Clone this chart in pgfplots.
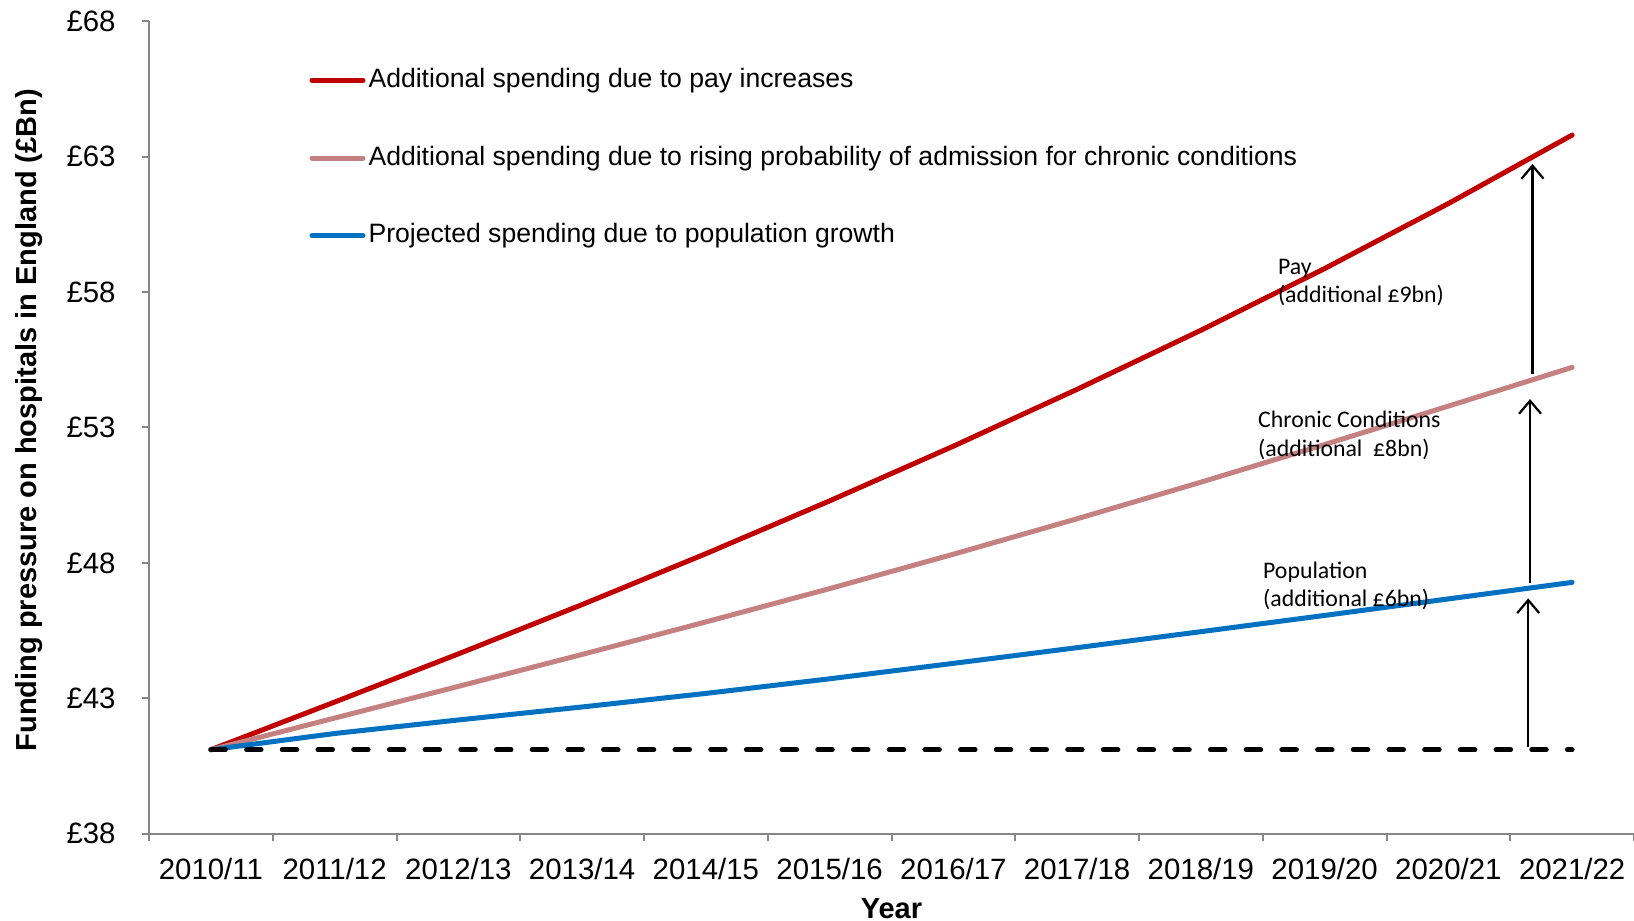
\documentclass[border=0pt]{standalone}
\usepackage{pgfplots}
\pgfplotsset{compat=1.18}
\usepackage{fontspec}
\setmainfont{Liberation Sans}
\newfontfamily\calibri{Carlito}
\usetikzlibrary{arrows.meta}

\definecolor{payred}{RGB}{192,0,0}
\definecolor{chronpink}{RGB}{197,128,128}
\definecolor{popblue}{RGB}{0,112,192}
\definecolor{axisgray}{RGB}{134,134,134}

\begin{document}
\begin{tikzpicture}
\begin{axis}[
    name=ax,
    scale only axis,
    width=742.5pt, height=406.2pt,
    xmin=-0.5, xmax=11.5,
    ymin=38, ymax=68,
    axis x line*=bottom, axis y line*=left,
    axis line style={draw=axisgray, line width=1pt, -},
    tick align=outside,
    tick style={draw=axisgray, line width=1pt},
    major tick length=3.5pt,
    xtick={-0.5,0.5,1.5,2.5,3.5,4.5,5.5,6.5,7.5,8.5,9.5,10.5,11.5},
    x tick label as interval,
    xticklabels={2010/11,2011/12,2012/13,2013/14,2014/15,2015/16,2016/17,2017/18,2018/19,2019/20,2020/21,2021/22},
    ytick={38,43,48,53,58,63,68},
    yticklabels={£38,£43,£48,£53,£58,£63,£68},
    ticklabel style={font=\fontsize{14.7}{17}\selectfont},
    xticklabel style={anchor=center, yshift=-14.15pt},
    yticklabel style={anchor=east, inner sep=0pt, xshift=-13pt},
    xlabel={Year},
    ylabel={Funding pressure on hospitals in England (£Bn)},
    label style={font=\bfseries\fontsize{14.5}{17}\selectfont},
    xlabel style={at={(axis description cs:0.5,-0.092)}, anchor=center},
    ylabel style={at={(axis description cs:-0.0808,0.509)}, anchor=center},
    legend style={draw=none, fill=none, inner sep=0pt, outer sep=0pt,
        at={(0.1081,0.9373)}, anchor=north west,
        font=\fontsize{13.3}{16}\selectfont, row sep=28.9pt,
        nodes={inner sep=0pt, text height=0.75em, text depth=0.25em}},
    legend cell align=left,
    legend image code/.code={\draw[#1] (0pt,1pt) -- (25.5pt,1pt);},
    /tikz/every odd column/.append style={column sep=1.5pt},
]
% projected spending, GBP bn, 2010/11 to 2021/22
\addplot[payred, line width=2.5pt, line join=round, line cap=round] coordinates {
    (0,41.10) (1,42.86) (2,44.64) (3,46.46) (4,48.34) (5,50.29)
    (6,52.31) (7,54.41) (8,56.59) (9,58.87) (10,61.27) (11,63.80)};
\addlegendentry{Additional spending due to pay increases}
\addplot[chronpink, line width=2.5pt, line join=round, line cap=round] coordinates {
    (0,41.10) (1,42.27) (2,43.44) (3,44.62) (4,45.82) (5,47.05)
    (6,48.32) (7,49.63) (8,50.98) (9,52.37) (10,53.79) (11,55.22)};
\addlegendentry{Additional spending due to rising probability of admission for chronic conditions}
\addplot[popblue, line width=2.5pt, line join=round, line cap=round] coordinates {
    (0,41.10) (1,41.70) (2,42.20) (3,42.68) (4,43.18) (5,43.72)
    (6,44.29) (7,44.87) (8,45.46) (9,46.06) (10,46.67) (11,47.28)};
\addlegendentry{Projected spending due to population growth}
% 2010/11 baseline
\addplot[black, line width=2.5pt, line cap=round, dash pattern=on 7.25pt off 10.6pt, forget plot]
    coordinates {(0,41.10) (11,41.10)};

% annotations
\node[anchor=west, align=left, inner sep=0pt, font=\calibri\fontsize{11.9}{14.3}\selectfont]
    at (axis cs:8.62,58.36) {Pay\\(additional £9bn)};
\node[anchor=west, align=left, inner sep=0pt, font=\calibri\fontsize{11.9}{14.3}\selectfont]
    at (axis cs:8.46,52.70) {Chronic Conditions\\(additional~ £8bn)};
\node[anchor=west, align=left, inner sep=0pt, font=\calibri\fontsize{11.9}{14.3}\selectfont]
    at (axis cs:8.50,47.15) {Population\\(additional £6bn)};
\draw[line width=1.1pt, -{Straight Barb[length=6.5pt,width=11pt]}]
    (axis cs:10.645,41.20) -- (axis cs:10.645,46.69);
\draw[line width=1.1pt, -{Straight Barb[length=6.5pt,width=11pt]}]
    (axis cs:10.66,47.25) -- (axis cs:10.66,54.05);
\draw[line width=1.1pt, -{Straight Barb[length=6.5pt,width=11pt]}]
    (axis cs:10.68,54.98) -- (axis cs:10.68,62.73);
\end{axis}
\pgfresetboundingbox
\path[use as bounding box] ([shift={(-74.5pt,-43.65pt)}]ax.south west)
    rectangle ([shift={(0pt,10.65pt)}]ax.north east);
\end{tikzpicture}
\end{document}
